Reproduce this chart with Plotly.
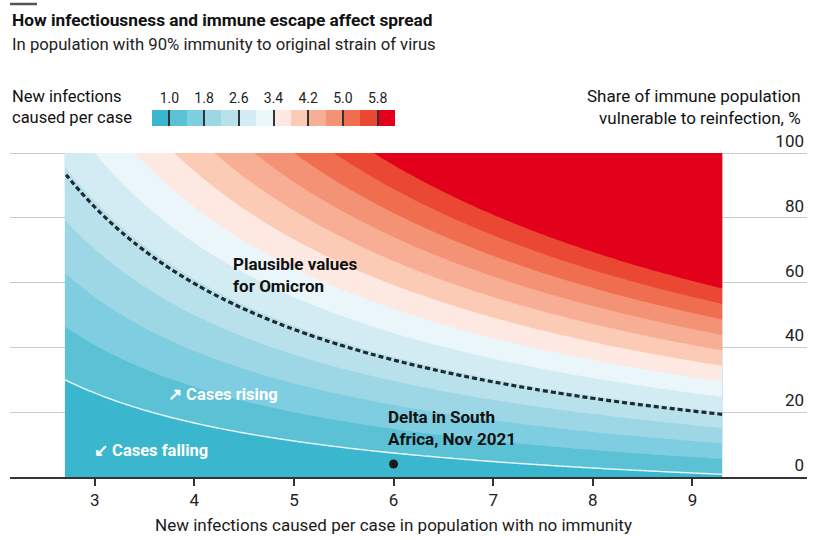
import numpy as np
import plotly.graph_objects as go

# --- data -----------------------------------------------------------------
# Basic reproduction number in a population with no immunity (x axis)
r0_values = np.round(np.arange(2.70, 9.3001, 0.05), 2)
# Share of the immune population that is vulnerable to reinfection, % (y axis)
vulnerable_pct = np.arange(0, 101, 1)
# Immunity to the original strain
prior_immunity = 0.90

# Effective reproduction number for every combination
r_eff = np.array([[r0 * (1 - prior_immunity * (1 - v / 100.0)) for r0 in r0_values]
                  for v in vulnerable_pct])

# Contour bands
level_start, level_end, level_step = 1.0, 5.8, 0.4
band_colors = ["#3ab7cf", "#5bc2d6", "#7fcde0", "#9dd7e5", "#b9e1eb", "#d3ecf3",
               "#ebf6fa", "#fde9e1", "#fbcbb5", "#f8ae95", "#f49276", "#f06e4f",
               "#ea4832", "#e3001b"]
legend_ticks = [1.0, 1.8, 2.6, 3.4, 4.2, 5.0, 5.8]
legend_ticktext = ["1.0", "1.8", "2.6", "3.4", "4.2", "5.0", "5.8"]
legend_band_centres = [0.8, 1.2, 1.6, 2.0, 2.4, 2.8, 3.2, 3.6, 4.0, 4.4, 4.8, 5.2, 5.6, 6.0]
legend_band_index = list(range(len(band_colors)))

# Reference lines
threshold_level = 1.0        # cases rising / falling
omicron_level = 2.55         # plausible values for Omicron

# Delta in South Africa, Nov 2021
delta_r0 = [6.0]
delta_vulnerable = [4.0]

x_ticks = [3, 4, 5, 6, 7, 8, 9]
y_ticks = [0, 20, 40, 60, 80, 100]

# --- styling helpers --------------------------------------------------------
FONT = "Roboto"
n = len(band_colors)
stepped_scale = []
for i, c in enumerate(band_colors):
    stepped_scale.append([i / n, c])
    stepped_scale.append([(i + 1) / n, c])

fig = go.Figure()

# Filled bands of the effective reproduction number
fig.add_trace(go.Contour(
    x=r0_values, y=vulnerable_pct, z=r_eff,
    contours=dict(start=level_start, end=level_end, size=level_step, coloring="fill",
                  showlines=False),
    colorscale=stepped_scale, showscale=False, line=dict(width=0),
    hoverinfo="skip",
))

# Threshold where each case causes one new infection
fig.add_trace(go.Contour(
    x=r0_values, y=vulnerable_pct, z=r_eff,
    contours=dict(start=threshold_level, end=threshold_level, size=1, coloring="none"),
    line=dict(color="rgba(255,255,255,0.9)", width=1.4), showscale=False, hoverinfo="skip",
))

# Omicron range
fig.add_trace(go.Contour(
    x=r0_values, y=vulnerable_pct, z=r_eff,
    contours=dict(start=omicron_level, end=omicron_level, size=1, coloring="none"),
    line=dict(color="#1f2a30", width=3.2, dash="5px,3px"), showscale=False, hoverinfo="skip",
))

# Delta marker
fig.add_trace(go.Scatter(
    x=delta_r0, y=delta_vulnerable, mode="markers",
    marker=dict(size=9, color="#1a1a1a"), hoverinfo="skip", showlegend=False,
))

# Colour key drawn as a one-row heatmap on its own axes
fig.add_trace(go.Heatmap(
    x=legend_band_centres, y=[0], z=[legend_band_index],
    colorscale=stepped_scale, zmin=-0.5, zmax=n - 0.5, showscale=False,
    xaxis="x2", yaxis="y2", hoverinfo="skip", xgap=0,
))

# --- layout -----------------------------------------------------------------
H, W = 540, 820
ML, MR, MB, MT = 10, 13, 63, 0
plot_h = H - MB - MT
plot_w = W - ML - MR
PX_PER_PCT = (477 - 153) / 100.0


def py(pix):
    return (H - MB - pix) / plot_h


def px(pix):
    return (pix - ML) / plot_w


y_top = 110
fig.update_layout(
    width=W, height=H,
    margin=dict(l=ML, r=MR, t=MT, b=MB),
    paper_bgcolor="white", plot_bgcolor="white",
    font=dict(family=FONT, color="#1a1a1a", size=15),
    showlegend=False,
    xaxis=dict(
        range=[2.15, 10.15], tickvals=x_ticks, ticks="outside", ticklen=7,
        tickwidth=1.5, tickcolor="#333", showline=True, linecolor="#333", linewidth=2,
        showgrid=False, zeroline=False, tickfont=dict(size=17, color="#222"),
        anchor="y",
    ),
    yaxis=dict(
        range=[0, y_top], domain=[0, py(477 - y_top * PX_PER_PCT)], tickvals=y_ticks,
        side="right", ticklabelposition="inside top", ticks="", showgrid=True,
        gridcolor="#c8c8c8", gridwidth=1, zeroline=False, showline=False,
        tickfont=dict(size=17, color="#222"),
    ),
    xaxis2=dict(
        domain=[px(152), px(395)], range=[0.6, 6.2], anchor="y2", side="top",
        tickvals=legend_ticks, ticktext=legend_ticktext, ticks="inside", ticklen=16,
        tickwidth=1.5, tickcolor="#333", showgrid=False, zeroline=False, showline=False,
        tickfont=dict(size=14, color="#222"), ticklabelstandoff=3,
    ),
    yaxis2=dict(domain=[py(126), py(110)], range=[-0.5, 0.5], visible=False, anchor="x2"),
)

annotations = [
    dict(text="<b>How infectiousness and immune escape affect spread</b>",
         x=px(10), y=py(20), xanchor="left", yanchor="middle", font=dict(size=17.3, color="#111")),
    dict(text="In population with 90% immunity to original strain of virus",
         x=px(10), y=py(45), xanchor="left", yanchor="middle", font=dict(size=16.7, color="#222")),
    dict(text="New infections<br>caused per case",
         x=px(10), y=py(107), xanchor="left", yanchor="middle", align="left",
         font=dict(size=16.5, color="#111")),
    dict(text="Share of immune population<br>vulnerable to reinfection, %",
         x=px(803), y=py(107), xanchor="right", yanchor="middle", align="right",
         font=dict(size=17, color="#111")),
    dict(text="New infections caused per case in population with no immunity",
         x=px(393), y=py(525), xanchor="center", yanchor="middle",
         font=dict(size=17, color="#1a1a1a")),
]
for a in annotations:
    a.update(xref="paper", yref="paper", showarrow=False)

data_notes = [
    dict(text="<b>Plausible values<br>for Omicron</b>", x=4.37, y=69.5, xanchor="left",
         yanchor="top", align="left", font=dict(size=17, color="#111")),
    dict(text="<b>↗ Cases rising</b>", x=3.72, y=25.5, xanchor="left", yanchor="middle",
         font=dict(size=16.5, color="white")),
    dict(text="<b>↙ Cases falling</b>", x=2.97, y=8.3, xanchor="left", yanchor="middle",
         font=dict(size=16.5, color="white")),
    dict(text="<b>Delta in South<br>Africa, Nov 2021</b>", x=5.92, y=22.3, xanchor="left",
         yanchor="top", align="left", font=dict(size=17, color="#111")),
]
for a in data_notes:
    a.update(xref="x", yref="y", showarrow=False)

fig.update_layout(annotations=annotations + data_notes)

# Short rule above the title
fig.add_shape(type="line", xref="paper", yref="paper", x0=px(10), x1=px(37),
              y0=py(4), y1=py(4), line=dict(color="#555", width=2.5))

fig.write_html("out.html")
